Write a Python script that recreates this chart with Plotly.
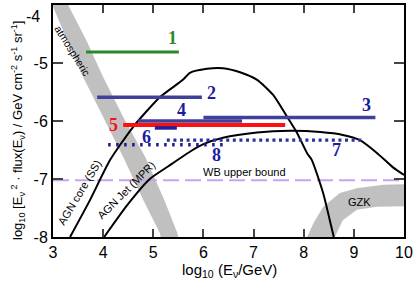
import plotly.graph_objects as go

# ---- data ----
limit_names = ["1", "2", "3", "4", "5", "6", "7", "8"]
limit_e_lo = [3.66, 3.88, 6.00, 4.70, 4.40, 5.03, 5.27, 4.10]
limit_e_hi = [5.51, 5.97, 9.43, 6.77, 7.63, 5.47, 9.16, 6.47]
limit_flux = [-4.81, -5.59, -5.94, -6.00, -6.07, -6.12, -6.33, -6.41]
label_e = [5.39, 6.17, 9.26, 5.57, 4.20, 4.87, 8.66, 6.27]
label_flux = [-4.57, -5.52, -5.72, -5.81, -6.07, -6.28, -6.50, -6.59]

core_e = [3.34, 3.74, 4.14, 4.60, 5.13, 5.59, 5.73, 6.07, 6.39, 6.73, 7.07,
          7.39, 7.67, 7.87, 8.07, 8.16, 8.39, 8.52, 8.60]
core_f = [-8.0, -7.36, -6.67, -6.10, -5.59, -5.29, -5.17, -5.10, -5.09, -5.16,
          -5.29, -5.55, -5.93, -6.21, -6.56, -6.67, -7.25, -7.71, -8.0]

jet_e = [4.02, 4.48, 4.93, 5.30, 5.73, 6.00, 6.39, 7.07, 7.73, 8.33, 8.78,
         9.12, 9.46, 9.78, 10.0]
jet_f = [-8.0, -7.45, -7.00, -6.78, -6.53, -6.40, -6.29, -6.20, -6.17, -6.19,
         -6.24, -6.33, -6.55, -6.80, -6.93]

atm_left_e = [2.95, 3.00, 3.28, 3.60, 4.00, 4.40, 4.80, 5.13, 5.17]
atm_left_f = [-3.90, -4.03, -4.60, -5.24, -5.93, -6.62, -7.36, -7.93, -8.10]
atm_right_e = [3.27, 3.32, 3.66, 4.00, 4.40, 4.84, 5.22, 5.48, 5.52]
atm_right_f = [-3.90, -4.03, -4.60, -5.24, -5.93, -6.62, -7.36, -7.93, -8.10]

gzk_top_e = [8.07, 8.20, 8.39, 8.72, 9.06, 9.58, 10.1]
gzk_top_f = [-8.0, -7.75, -7.48, -7.24, -7.16, -7.10, -7.09]
gzk_bot_e = [8.62, 8.78, 9.06, 9.46, 10.1]
gzk_bot_f = [-8.0, -7.71, -7.53, -7.48, -7.47]

wb_flux = -7.02
x_ticks = [3, 4, 5, 6, 7, 8, 9, 10]
y_ticks = [-8, -7, -6, -5, -4]
y_ticktext = ["-8", "-7", "-6", "-5", ""]   # "-4" drawn just below its tick
top_tick_text = "-4"

# ---- styles ----
line_colors = ["#2A882A", "#40409A", "#40409A", "#40409A", "#FF1010",
               "#202098", "#30309A", "#1A1A90"]
label_colors = ["#2A882A", "#1C1CA0", "#1C1CA0", "#1C1CA0", "#FF1010",
                "#1C1CA0", "#1C1CA0", "#1C1CA0"]
line_widths = [3, 3.5, 3.5, 3.5, 4, 3.5, 3.2, 3.5]
line_dash = ["solid", "solid", "solid", "solid", "solid", "solid",
             "3px,3.6px", "2.5px,5.5px"]

fig = go.Figure()

# atmospheric band
fig.add_trace(go.Scatter(
    x=atm_left_e + atm_right_e[::-1], y=atm_left_f + atm_right_f[::-1],
    fill="toself", fillcolor="#C0C0C0", line=dict(width=0),
    mode="lines", hoverinfo="skip", showlegend=False))
# GZK band
fig.add_trace(go.Scatter(
    x=gzk_top_e + gzk_bot_e[::-1], y=gzk_top_f + gzk_bot_f[::-1],
    fill="toself", fillcolor="#C0C0C0", line=dict(width=0),
    mode="lines", hoverinfo="skip", showlegend=False))
# WB bound
fig.add_trace(go.Scatter(
    x=[x_ticks[0], x_ticks[-1]], y=[wb_flux, wb_flux], mode="lines",
    line=dict(color="#C9A2F2", width=2, dash="16px,6px"), showlegend=False))
# model curves
fig.add_trace(go.Scatter(x=core_e, y=core_f, mode="lines",
                         line=dict(color="black", width=2, shape="spline", smoothing=0.6),
                         showlegend=False))
fig.add_trace(go.Scatter(x=jet_e, y=jet_f, mode="lines",
                         line=dict(color="black", width=2, shape="spline", smoothing=0.6),
                         showlegend=False))
# experimental limits
for i in range(len(limit_names)):
    fig.add_trace(go.Scatter(
        x=[limit_e_lo[i], limit_e_hi[i]], y=[limit_flux[i], limit_flux[i]],
        mode="lines", line=dict(color=line_colors[i], width=line_widths[i],
                                dash=line_dash[i]), showlegend=False))
    fig.add_annotation(x=label_e[i], y=label_flux[i], text="<b>%s</b>" % limit_names[i],
                       showarrow=False,
                       font=dict(family="Liberation Serif", size=18, color=label_colors[i]))

small = dict(family="Liberation Sans", size=11, color="black")
fig.add_annotation(x=3.38, y=-4.78, text="atmospheric", textangle=58,
                   showarrow=False, font=dict(family="Liberation Sans", size=10.5, color="black"))
fig.add_annotation(x=3.52, y=-7.24, text="AGN core (SS)", textangle=-59,
                   showarrow=False, font=small)
fig.add_annotation(x=4.46, y=-7.19, text="AGN Jet (MPR)", textangle=-45,
                   showarrow=False, font=small)
fig.add_annotation(x=9.12, y=-7.40, text="GZK", showarrow=False, font=small)
fig.add_annotation(x=6.82, y=-6.88, text="WB upper bound", showarrow=False, font=small)

# top y tick label, nudged down like the reference
fig.add_annotation(xref="paper", yref="y", x=-0.03, y=y_ticks[-1], yshift=-11,
                   xanchor="right", text=top_tick_text, showarrow=False,
                   font=dict(family="Liberation Sans", size=16, color="black"))

# axis titles
fig.add_annotation(xref="paper", yref="paper", x=0.504, y=-0.194,
                   text="log<sub>10</sub> (E<sub>ν</sub>/GeV)", showarrow=False,
                   font=dict(family="Liberation Sans", size=15, color="black"))
fig.add_annotation(xref="paper", yref="paper", x=-0.131, y=0.457, textangle=-90,
                   text="log<sub>10</sub> [E<sub>ν</sub><sup> 2</sup> · flux(E<sub>ν</sub>) / GeV cm<sup>-2</sup> s<sup>-1</sup> sr<sup>-1</sup>]",
                   showarrow=False,
                   font=dict(family="Liberation Sans", size=13, color="black"))

fig.update_layout(
    width=415, height=292,
    margin=dict(l=53, r=11, t=5, b=55, autoexpand=False),
    paper_bgcolor="white", plot_bgcolor="white",
    xaxis=dict(range=[3, 10], tickvals=x_ticks, ticks="inside", ticklen=8, tickwidth=2,
               showline=True, linecolor="black", linewidth=2, mirror="ticks",
               showgrid=False, zeroline=False, automargin=False,
               tickfont=dict(family="Liberation Sans", size=16, color="black")),
    yaxis=dict(range=[-8, -4], tickvals=y_ticks, ticktext=y_ticktext, ticks="inside",
               ticklen=10, tickwidth=2,
               showline=True, linecolor="black", linewidth=2, mirror="ticks",
               showgrid=False, zeroline=False, automargin=False,
               tickfont=dict(family="Liberation Sans", size=16, color="black")),
)

fig.write_html("out.html", config={"displayModeBar": False},
               post_script="document.body.style.margin='0';document.body.style.overflow='hidden';")
